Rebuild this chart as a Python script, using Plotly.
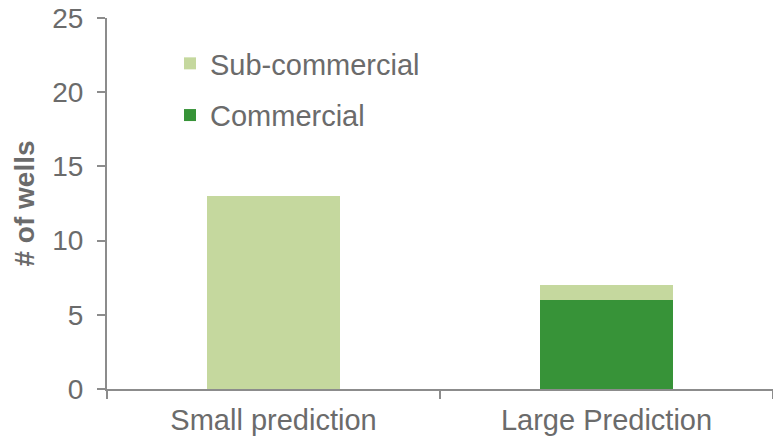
import plotly.graph_objects as go

# Well counts by prediction size
categories = ["Small prediction", "Large Prediction"]
commercial = [0, 6]
sub_commercial = [13, 1]

y_ticks = [0, 5, 10, 15, 20, 25]

LIGHT_GREEN = "#c5d89e"
DARK_GREEN = "#379338"
TEXT_GRAY = "#6b6b6b"
AXIS_GRAY = "#8c8c8c"
FONT = "Arial, Liberation Sans, sans-serif"

fig = go.Figure()
fig.add_trace(go.Bar(
    x=categories, y=commercial, name="Commercial",
    legendgroup="c", legendrank=2,
    marker=dict(color=DARK_GREEN, line=dict(width=0)),
))
fig.add_trace(go.Bar(
    x=categories, y=sub_commercial, name="Sub-commercial",
    legendgroup="s", legendrank=1,
    marker=dict(color=LIGHT_GREEN, line=dict(width=0)),
))

fig.update_layout(
    barmode="stack",
    bargap=0.6,
    width=773, height=439,
    margin=dict(l=107, r=0, t=18, b=50, autoexpand=False),
    paper_bgcolor="white", plot_bgcolor="white",
    font=dict(family=FONT, size=28, color=TEXT_GRAY),
    showlegend=True,
    legend=dict(
        xref="container", yref="container",
        x=170 / 773, y=1 - 38 / 439,
        xanchor="left", yanchor="top",
        traceorder="grouped",
        tracegroupgap=11,
        font=dict(size=29, color=TEXT_GRAY),
        bgcolor="rgba(0,0,0,0)",
    ),
    xaxis=dict(
        range=[-0.5, 1.5],
        showline=True, linecolor=AXIS_GRAY, linewidth=2,
        ticks="outside", tickson="boundaries", ticklen=8,
        tickcolor=AXIS_GRAY, tickwidth=1.5,
        showgrid=False, zeroline=False,
        ticklabelstandoff=4,
        tickfont=dict(size=29, color=TEXT_GRAY),
    ),
    yaxis=dict(
        range=[0, 25],
        tickvals=y_ticks,
        showline=True, linecolor=AXIS_GRAY, linewidth=2,
        ticks="outside", ticklen=8, tickcolor=AXIS_GRAY, tickwidth=1.5,
        showgrid=False, zeroline=False,
        ticklabelstandoff=8,
        tickfont=dict(size=28, color=TEXT_GRAY),
    ),
    annotations=[dict(
        text="<b># of wells</b>",
        xref="paper", yref="paper",
        x=(24 - 107) / 666, y=0.5,
        xanchor="center", yanchor="middle",
        textangle=-90, showarrow=False,
        font=dict(size=28, color=TEXT_GRAY),
    )],
)

fig.write_html("out.html")
